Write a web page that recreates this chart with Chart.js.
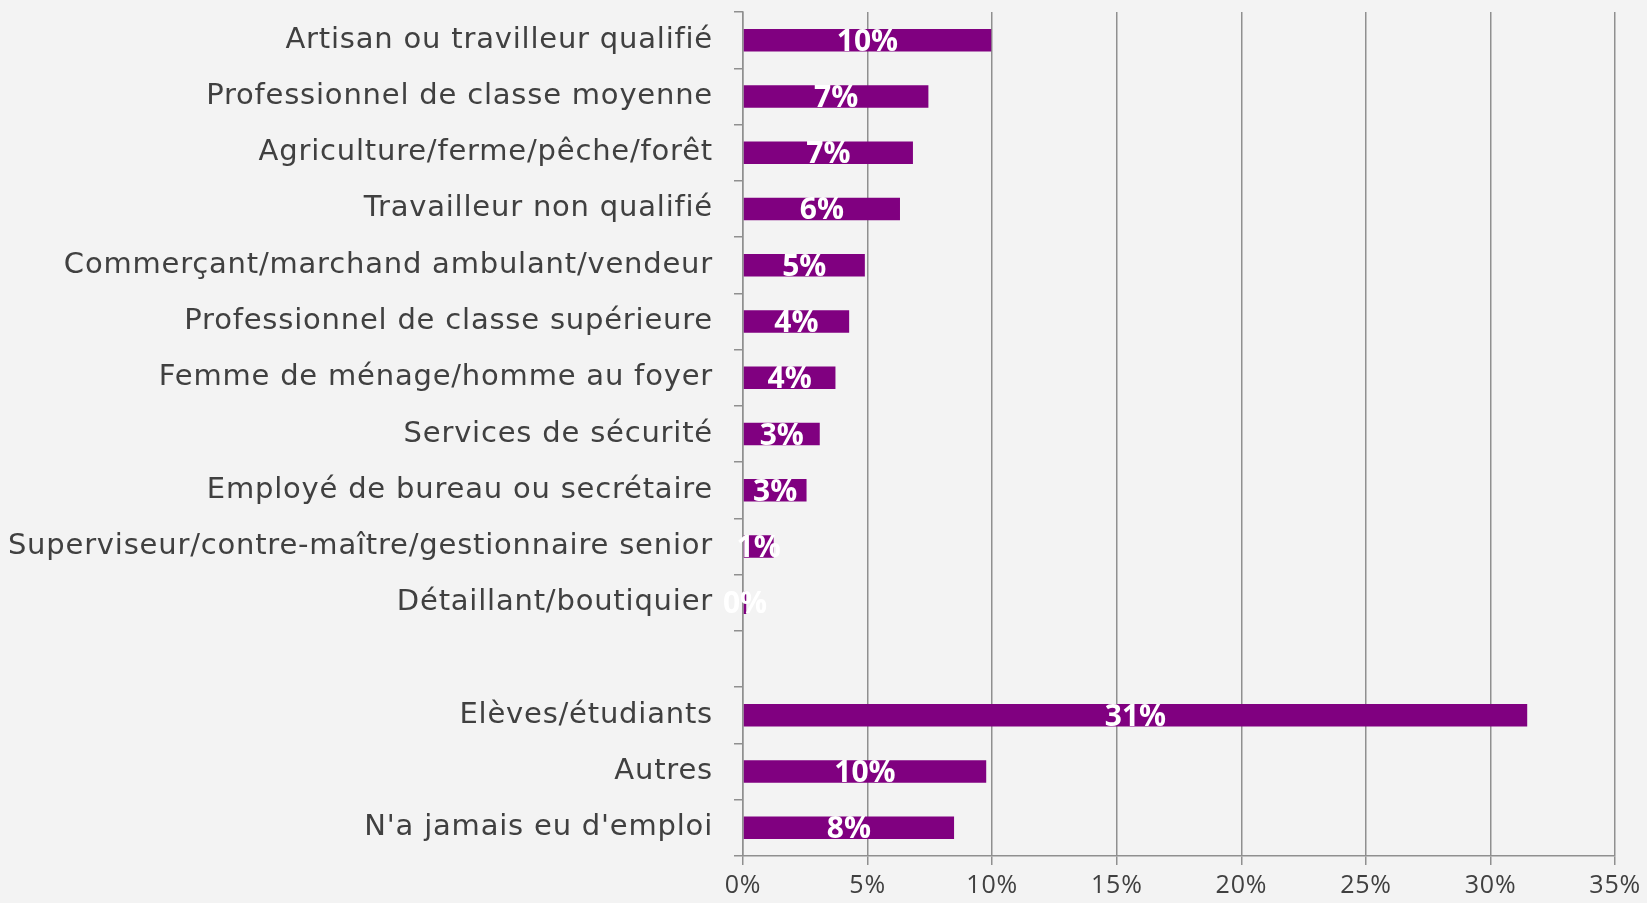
<!DOCTYPE html>
<html lang="fr">
<head>
    <meta charset="UTF-8">
    <meta name="viewport" content="width=device-width, initial-scale=1.0">
    <title>Profession</title>
    <script src="https://cdn.jsdelivr.net/npm/chart.js@4"></script>
    <style>
        html, body { margin: 0; padding: 0; background: #f3f3f3; }
        .chart-container { position: relative; width: 1647px; height: 903px; }
    </style>
</head>
<body>
    <div class="chart-container">
        <canvas id="chartCanvas"></canvas>
    </div>
    <script>
        // categories, top to bottom (the empty one is the gap before the students)
        const categories = [
            'Artisan ou travilleur qualifié',
            'Professionnel de classe moyenne',
            'Agriculture/ferme/pêche/forêt',
            'Travailleur non qualifié',
            'Commerçant/marchand ambulant/vendeur',
            'Professionnel de classe supérieure',
            'Femme de ménage/homme au foyer',
            'Services de sécurité',
            'Employé de bureau ou secrétaire',
            'Superviseur/contre-maître/gestionnaire senior',
            'Détaillant/boutiquier',
            '',
            'Elèves/étudiants',
            'Autres',
            "N'a jamais eu d'emploi"
        ];
        const percentages = [9.96, 7.44, 6.82, 6.3, 4.89, 4.26, 3.71, 3.08, 2.55, 1.23, 0.13, null, 31.47, 9.76, 8.47];
        const xTicks = [0, 5, 10, 15, 20, 25, 30, 35];

        const gridGrey = '#8f8f8f';
        const textGrey = '#404040';
        const labelFont = '"DejaVu Sans", sans-serif';
        const fontFamily = '"Open Sans", "Noto Sans", sans-serif';
        const spacing = '0.8px';

        // the original font is wide, so space the axis text out a little
        // (a canvas resize resets the context, so set it again before layout and draw)
        const wideText = {
            id: 'wideText',
            afterInit(chart) { chart.ctx.letterSpacing = spacing; },
            beforeLayout(chart) { chart.ctx.letterSpacing = spacing; },
            beforeDraw(chart) { chart.ctx.letterSpacing = spacing; }
        };

        // white value labels centred in each bar
        const barLabels = {
            id: 'barLabels',
            afterDatasetsDraw(chart) {
                const ctx = chart.ctx;
                const meta = chart.getDatasetMeta(0);
                ctx.save();
                ctx.letterSpacing = '0px';
                ctx.font = 'bold 30px ' + fontFamily;
                ctx.fillStyle = '#ffffff';
                ctx.textAlign = 'center';
                ctx.textBaseline = 'middle';
                meta.data.forEach((bar, i) => {
                    const v = percentages[i];
                    if (v === null) return;
                    const p = bar.getProps(['x', 'y', 'base'], true);
                    ctx.fillText(Math.round(v) + '%', (p.x + p.base) / 2, p.y + 2);
                });
                ctx.restore();
            }
        };

        const ctx = document.getElementById('chartCanvas').getContext('2d');
        new Chart(ctx, {
            type: 'bar',
            data: {
                labels: categories,
                datasets: [{
                    data: percentages,
                    backgroundColor: '#800080',
                    borderWidth: 0,
                    barPercentage: 0.4,
                    categoryPercentage: 1.0
                }]
            },
            options: {
                indexAxis: 'y',
                responsive: true,
                maintainAspectRatio: false,
                animation: false,
                layout: { padding: { top: 12, right: 27, left: 0, bottom: 0 } },
                plugins: {
                    legend: { display: false },
                    tooltip: { enabled: false }
                },
                scales: {
                    x: {
                        min: xTicks[0],
                        max: xTicks[xTicks.length - 1],
                        afterFit: scale => { scale.height = 47; },
                        ticks: {
                            stepSize: xTicks[1] - xTicks[0],
                            callback: v => v + '%',
                            color: textGrey,
                            font: { family: fontFamily, size: 25 },
                            padding: 6,
                            maxRotation: 0
                        },
                        grid: { color: gridGrey, lineWidth: 1.5, tickLength: 9 },
                        border: { color: gridGrey, width: 1.5 }
                    },
                    y: {
                        afterFit: scale => {
                            scale.width = 743;
                            scale.paddingTop = 0;
                            scale.paddingBottom = 0;
                        },
                        ticks: {
                            color: textGrey,
                            font: { family: labelFont, size: 29 },
                            padding: 21,
                            autoSkip: false
                        },
                        grid: { drawOnChartArea: false, color: gridGrey, lineWidth: 1.5, tickLength: 9, offset: true },
                        border: { color: gridGrey, width: 1.5 }
                    }
                }
            },
            plugins: [wideText, barLabels]
        });
    </script>
</body>
</html>
